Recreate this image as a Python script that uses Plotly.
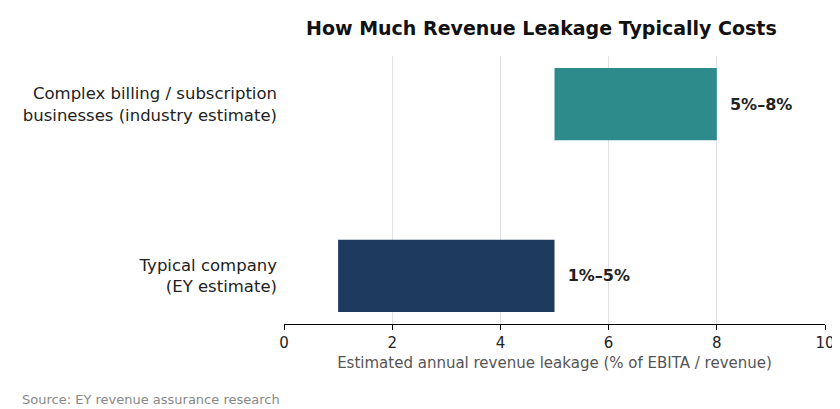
import plotly.graph_objects as go

categorias = ["Typical company<br>(EY estimate)",
              "Complex billing / subscription<br>businesses (industry estimate)"]
inicio = [1, 5]
fin = [5, 8]
etiquetas = ["1%–5%", "5%–8%"]
colores = ["#1f3a5f", "#2e8b8b"]

largo = [f - i for i, f in zip(inicio, fin)]

fig = go.Figure(go.Bar(
    y=[0, 1], x=largo, base=inicio, orientation="h",
    marker=dict(color=colores, line=dict(width=0)),
    width=0.42,
    text=["  <b>" + t + "</b>" for t in etiquetas], textposition="outside",
    textfont=dict(size=16, color="#222"), cliponaxis=False,
))

fig.update_layout(
    width=840, height=409,
    margin=dict(l=276, r=23, t=48, b=93),
    paper_bgcolor="white", plot_bgcolor="white",
    font=dict(family="DejaVu Sans", color="#222"),
    title=dict(text="<b>How Much Revenue Leakage Typically Costs</b>",
               x=0.635, xanchor="center", y=0.95, yanchor="middle",
               font=dict(size=19, color="#111")),
    showlegend=False,
    annotations=[dict(text="Source: EY revenue assurance research",
                      xref="paper", yref="paper", x=-0.488, y=-0.28,
                      xanchor="left", yanchor="middle", showarrow=False,
                      font=dict(size=13, color="#888"))],
)
fig.update_xaxes(range=[0, 10], dtick=2, showgrid=True, gridcolor="#e0e0e0",
                 showline=True, linecolor="black", ticks="outside",
                 ticklen=5, tickcolor="black", zeroline=False,
                 tickfont=dict(size=15, color="#222"),
                 title=dict(text="Estimated annual revenue leakage (% of EBITA / revenue)",
                            font=dict(size=15, color="#555"), standoff=6))
fig.update_yaxes(range=[-0.28, 1.28], tickvals=[0, 1], ticktext=categorias,
                 showgrid=False, tickfont=dict(size=16.5, color="#222"),
                 ticks="", ticklabelstandoff=6)

fig.write_html("out.html")
